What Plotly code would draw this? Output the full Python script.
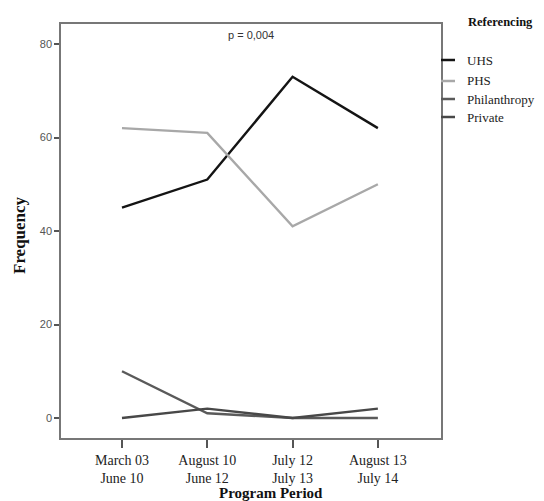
import plotly.graph_objects as go

periods = ["March 03<br>June 10", "August 10<br>June 12", "July 12<br>July 13", "August 13<br>July 14"]
series_names = ["UHS", "PHS", "Philanthropy", "Private"]
uhs = [45, 51, 73, 62]
phs = [62, 61, 41, 50]
philanthropy = [10, 1, 0, 0]
private = [0, 2, 0, 2]
series_values = [uhs, phs, philanthropy, private]
colors = ["#141414", "#a8a8a8", "#5a5a5a", "#484848"]
y_ticks = [0, 20, 40, 60, 80]

fig = go.Figure()
xs = list(range(len(periods)))
for name, vals, col in zip(series_names, series_values, colors):
    fig.add_trace(go.Scatter(x=xs, y=vals, mode="lines", name=name,
                             line=dict(color=col, width=2.4), showlegend=False))

# page body has an 8px margin; work in screen pixels and compensate
OFF = 8
W, H = 544 - OFF, 501 - OFF
L, T = 61 - OFF, 24 - OFF
R, B = 544 - 441, 501 - 438
pw = W - L - R
ph = H - T - B

def px_x(px):
    return (px - OFF - L) / pw

def px_y(py):
    return (H - B - (py - OFF)) / ph

legend_y_px = [60, 81, 99, 117]
shapes = []
annotations = []
for name, col, ypx in zip(series_names, colors, legend_y_px):
    shapes.append(dict(type="line", xref="paper", yref="paper",
                       x0=1.0, x1=px_x(455), y0=px_y(ypx), y1=px_y(ypx),
                       line=dict(color=col, width=2.5)))
    annotations.append(dict(xref="paper", yref="paper", x=px_x(465), y=px_y(ypx),
                            text=name, showarrow=False, xanchor="left", yanchor="middle",
                            font=dict(family="Liberation Serif", size=13, color="#222")))
annotations.append(dict(xref="paper", yref="paper", x=px_x(466), y=px_y(22),
                        text="<b>Referencing</b>", showarrow=False, xanchor="left", yanchor="middle",
                        font=dict(family="Liberation Serif", size=12.5, color="#111")))
annotations.append(dict(xref="paper", yref="paper", x=px_x(251), y=px_y(35),
                        text="p = 0,004", showarrow=False, xanchor="center", yanchor="middle",
                        font=dict(family="Liberation Sans Narrow, Liberation Sans", size=11, color="#333")))
annotations.append(dict(xref="paper", yref="paper", x=px_x(19), y=px_y(235),
                        text="<b>Frequency</b>", showarrow=False, textangle=-90,
                        xanchor="center", yanchor="middle",
                        font=dict(family="Liberation Serif", size=17, color="#111")))
annotations.append(dict(xref="paper", yref="paper", x=px_x(271), y=px_y(493),
                        text="<b>Program Period</b>", showarrow=False,
                        xanchor="center", yanchor="middle",
                        font=dict(family="Liberation Serif", size=15, color="#111")))

fig.update_layout(
    width=W, height=H,
    margin=dict(l=L, r=R, t=T, b=B),
    plot_bgcolor="white", paper_bgcolor="white",
    shapes=shapes, annotations=annotations,
    xaxis=dict(range=[-0.715, 3.74], tickmode="array", tickvals=xs, ticktext=periods,
               automargin=False,
               showgrid=False, zeroline=False, showline=True, mirror=True,
               linecolor="#777", linewidth=1.5, ticks="outside", ticklen=8,
               tickcolor="#555", tickwidth=1.5,
               tickfont=dict(family="Liberation Serif", size=14, color="#222")),
    yaxis=dict(range=[-4.28, 84.28], tickmode="array", tickvals=y_ticks,
               automargin=False,
               showgrid=False, zeroline=False, showline=True, mirror=True,
               linecolor="#777", linewidth=1.5, ticks="outside", ticklen=5,
               tickcolor="#555", tickwidth=1.5,
               tickfont=dict(family="Liberation Sans", size=11, color="#555")),
)

fig.write_html("out.html")
